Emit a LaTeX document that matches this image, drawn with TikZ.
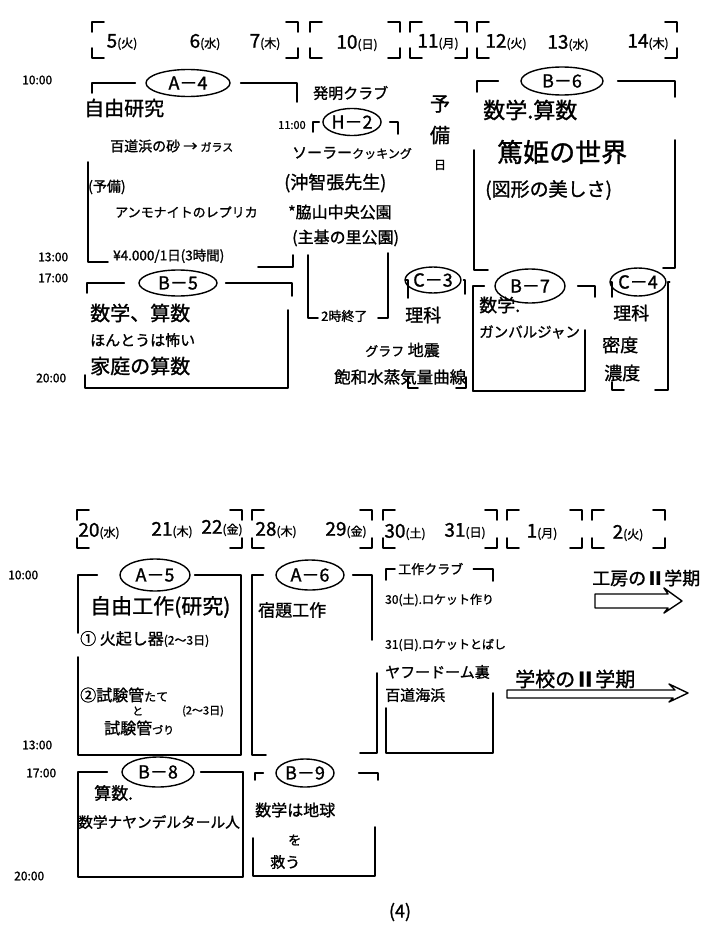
\documentclass[tikz,border=0pt]{standalone}
\usepackage{fontspec}
\setmainfont{Noto Sans CJK JP}[FakeBold=1.2]
\usetikzlibrary{shapes.geometric}
\newcommand\fs[1]{\fontsize{#1}{#1}\selectfont}
\newcommand\wk[1]{{\fs{12}(#1)}}
\newcommand\brk[4]{%
 \draw[pen] (#1+12,#3) -- (#1,#3) -- (#1,#3+10);
 \draw[pen] (#1,#4-10) -- (#1,#4) -- (#1+12,#4);
 \draw[pen] (#2-12,#3) -- (#2,#3) -- (#2,#3+10);
 \draw[pen] (#2,#4-10) -- (#2,#4) -- (#2-12,#4);}
\tikzset{
 pen/.style={line width=1.7pt, line cap=round, line join=round},
 oval/.style={ellipse, draw, line width=1.4pt, inner sep=0pt, font=\fs{18}},
 txt/.style={anchor=west, inner sep=0pt},
 tm/.style={anchor=west, inner sep=0pt, font=\fs{12}},
 day/.style={inner sep=0pt, font=\fs{19}},
}
\begin{document}
\begin{tikzpicture}[x=1pt,y=-1pt]
\useasboundingbox (0,0) rectangle (712,939);
\fill[white] (0,0) rectangle (712,939);

% ===== top header =====
\brk{92}{298}{22}{58}
\brk{310}{400}{22}{58}
\brk{410}{467}{22}{58}
\brk{477}{677}{22}{58}
\node[day] (d5) at (122,42) {5\wk{火}};
\node[day] (d6) at (205,42) {6\wk{水}};
\node[day] (d7) at (265,42) {7\wk{木}};
\node[day] (d10) at (357,43) {10\wk{日}};
\node[day] (d11) at (438,42) {11\wk{月}};
\node[day] (d12) at (506,42) {12\wk{火}};
\node[day] (d13) at (568,43) {13\wk{水}};
\node[day] (d14) at (648,42) {14\wk{木}};

% times top
\node[tm] (t10a) at (22,80) {10:00};
\node[tm] (t13a) at (38,257) {13:00};
\node[tm] (t17a) at (38,278) {17:00};
\node[tm] (t20a) at (36,378) {20:00};
\node[tm,font=\fs{11}] (t11a) at (278,125) {11:00};

% ===== A-4 =====
\node[oval,minimum width=84,minimum height=27] (a4) at (188,83) {A－4};
\draw[pen,shorten >=10pt] (92,93) |- (a4.west);
\draw[pen,shorten <=10pt] (a4.east) -| (297,102);
\draw[pen] (88,162) -- (88,262) -- (108,262);
\draw[pen] (258,267) -- (293,267) -- (293,255);
\node[txt,font=\fs{20}] (a4t1) at (84,108) {自由研究};
\node[txt,font=\fs{14}] (a4t2) at (110,146) {百道浜の砂 → {\fs{11}ガラス}};
\node[txt,font=\fs{14}] (a4t3) at (88,187) {(予備)};
\node[txt,font=\fs{13}] (a4t4) at (115,212) {アンモナイトのレプリカ};
\node[txt,font=\fs{13.5}] (a4t5) at (113,256) {¥4.000/1日(3時間)};

% ===== B-5 =====
\node[oval,minimum width=78,minimum height=26] (b5) at (178,283) {B－5};
\draw[pen,shorten >=14pt] (87,293) |- (b5.west);
\draw[pen,shorten <=8pt] (b5.east) -| (292,296);
\draw[pen] (288,310) -- (288,388) -- (85,388) -- (85,375);
\node[txt,font=\fs{20}] (b5t1) at (90,313) {数学、算数};
\node[txt,font=\fs{15}] (b5t2) at (90,340) {ほんとうは怖い};
\node[txt,font=\fs{20}] (b5t3) at (90,366) {家庭の算数};

% ===== H-2 =====
\node[txt,font=\fs{15}] (hclub) at (313,93) {発明クラブ};
\node[oval,minimum width=58,minimum height=27] (h2) at (352,122) {H－2};
\draw[pen,shorten >=3pt] (313,132) |- (h2.west);
\draw[pen,shorten <=8pt] (h2.east) -| (398,134);
\node[txt,font=\fs{15}] (h2t1) at (292,153) {ソーラー{\fs{12}クッキング}};
\node[txt,font=\fs{18}] (h2t2) at (284,183) {(沖智張先生)};
\node[txt,font=\fs{16}] (h2t3) at (288,212) {*脇山中央公園};
\node[txt,font=\fs{16}] (h2t4) at (292,238) {(主基の里公園)};
\draw[pen] (308,255) -- (308,318) -- (318,318);
\node[txt,font=\fs{13}] (h2t5) at (321,316) {2時終了};
\draw[pen] (378,318) -- (388,318) -- (388,253);

% 予備日
\node[font=\fs{20},inner sep=0pt] (y1) at (440,104) {予};
\node[font=\fs{20},inner sep=0pt] (y2) at (440,135) {備};
\node[font=\fs{12},inner sep=0pt] (y3) at (440,165) {日};

% ===== B-6 =====
\node[oval,minimum width=82,minimum height=28] (b6) at (562,81) {B－6};
\draw[pen,shorten >=22pt] (477,92) |- (b6.west);
\draw[pen,shorten <=14pt] (b6.east) -| (675,97);
\node[txt,font=\fs{22}] (b6t1) at (483,110) {数学.算数};
\node[txt,font=\fs{26}] (b6t2) at (497,152) {篤姫の世界};
\node[txt,font=\fs{19}] (b6t3) at (485,190) {(図形の美しさ)};
\draw[pen] (474,150) -- (474,270) -- (488,270);
\draw[pen] (675,140) -- (675,268) -- (663,268);

% ===== C-3 =====
\node[oval,minimum width=46,minimum height=26] (c3) at (433,280) {C－3};
\draw[pen,shorten >=1pt] (408,298) |- (c3.west);
\draw[pen,shorten <=2pt] (c3.east) -| (465,294);
\node[txt,font=\fs{18}] (c3t1) at (405,315) {理科};
\node[txt,font=\fs{16}] (c3t2) at (365,350) {{\fs{13}グラフ} 地震};
\node[txt,font=\fs{16.5}] (c3t3) at (334,377) {飽和水蒸気量曲線};
\draw[pen] (408,377) -- (408,388) -- (418,388);
\draw[pen] (456,388) -- (466,388) -- (466,377);

% ===== B-7 =====
\node[oval,minimum width=70,minimum height=34] (b7) at (530,286) {B－7};
\draw[pen,shorten >=10pt] (473,391) |- (b7.west);
\draw[pen] (473,391) -- (585,391) -- (585,330);
\draw[pen,shorten <=12pt] (b7.east) -| (595,297);
\node[txt,font=\fs{18}] (b7t1) at (479,305) {数学.};
\node[txt,font=\fs{14.5}] (b7t2) at (479,332) {ガンバルジャン};

% ===== C-4 =====
\node[oval,minimum width=44,minimum height=28] (c4) at (638,282) {C－4};
\draw[pen,shorten >=1pt] (612,297) |- (c4.west);
\draw[pen,shorten <=3pt] (c4.east) -| (668,390) -- (655,390);
\draw[pen] (612,382) -- (612,390) -- (624,390);
\node[txt,font=\fs{18}] (c4t1) at (613,313) {理科};
\node[txt,font=\fs{18}] (c4t2) at (602,345) {密度};
\node[txt,font=\fs{18}] (c4t3) at (604,373) {濃度};

% ===== bottom header =====
\brk{77}{242}{510}{548}
\brk{252}{372}{510}{548}
\brk{383}{497}{510}{548}
\brk{507}{582}{510}{548}
\brk{592}{665}{510}{548}
\node[day] (d20) at (99,531) {20\wk{水}};
\node[day] (d21) at (172,530) {21\wk{木}};
\node[day] (d22) at (222,528) {22\wk{金}};
\node[day] (d28) at (276,530) {28\wk{木}};
\node[day] (d29) at (346,530) {29\wk{金}};
\node[day] (d30) at (405,532) {30\wk{土}};
\node[day] (d31) at (465,531) {31\wk{日}};
\node[day] (d1) at (542,532) {1\wk{月}};
\node[day] (d2) at (628,533) {2\wk{火}};

% times bottom
\node[tm] (t10b) at (8,575) {10:00};
\node[tm] (t13b) at (22,745) {13:00};
\node[tm] (t17b) at (26,773) {17:00};
\node[tm] (t20b) at (14,876) {20:00};

% ===== A-5 =====
\node[oval,minimum width=70,minimum height=32] (a5) at (155,575) {A－5};
\draw[pen,shorten <=22pt] (a5.west) -| (78,633);
\draw[pen,shorten <=4pt] (a5.east) -| (241,755) -- (78,755) -- (78,657);
\node[txt,font=\fs{21}] (a5t1) at (90,607) {自由工作(研究)};
\node[txt,font=\fs{16}] (a5t2) at (80,639) {① 火起し器{\fs{12}(2～3日)}};
\node[txt,font=\fs{16}] (a5t3) at (80,695) {②試験管{\fs{12}たて}};
\node[txt,font=\fs{11}] (a5t4) at (132,711) {と};
\node[txt,font=\fs{11}] (a5t5) at (182,711) {(2～3日)};
\node[txt,font=\fs{16}] (a5t6) at (104,728) {試験管{\fs{11}づり}};

% ===== A-6 =====
\node[oval,minimum width=68,minimum height=30] (a6) at (310,575) {A－6};
\draw[pen,shorten <=12pt] (a6.west) -| (252,755) -- (266,755);
\draw[pen,shorten <=8pt] (a6.east) -| (372,640);
\draw[pen] (377,673) -- (377,753) -- (360,753);
\node[txt,font=\fs{17}] (a6t1) at (258,610) {宿題工作};

% ===== 工作クラブ =====
\node[txt,font=\fs{13}] (kclub) at (398,569) {工作クラブ};
\draw[pen,shorten >=3pt] (386,580) |- (kclub.west);
\draw[pen,shorten <=10pt] (kclub.east) -| (493,581);
\node[txt,font=\fs{12}] (k1) at (385,600) {30(土).ロケット作り};
\node[txt,font=\fs{12}] (k2) at (385,645) {31(日).ロケットとばし};
\node[txt,font=\fs{15}] (k3) at (385,672) {ヤフードーム裏};
\node[txt,font=\fs{15}] (k4) at (385,695) {百道海浜};
\draw[pen] (386,708) -- (386,753) -- (493,753) -- (493,693);

% ===== B-8 =====
\node[oval,minimum width=72,minimum height=30] (b8) at (158,772) {B－8};
\draw[pen,shorten <=14pt] (b8.west) -| (78,877) -| (243,772);
\draw[pen,shorten >=6pt] (243,772) -- (b8.east);
\node[txt,font=\fs{17}] (b8t1) at (94,793) {算数.};
\node[txt,font=\fs{14.7}] (b8t2) at (78,822) {数学ナヤンデルタール人};

% ===== B-9 =====
\node[oval,minimum width=58,minimum height=28] (b9) at (305,773) {B－9};
\draw[pen,shorten >=12pt] (255,780) |- (b9.west);
\draw[pen,shorten <=24pt] (b9.east) -| (378,780);
\draw[pen] (253,838) -- (253,876) -- (375,876) -- (375,827);
\node[txt,font=\fs{16}] (b9t1) at (255,810) {数学は地球};
\node[txt,font=\fs{13}] (b9t2) at (288,840) {を};
\node[txt,font=\fs{15}] (b9t3) at (270,862) {救う};

% ===== arrows =====
\node[txt,font=\fs{18}] (kobo) at (592,578) {工房の\textbf{Ⅱ}学期};
\draw[pen,line width=1.4pt] (595,594) -- (668,594) -- (664,588) -- (682,601) -- (664,613) -- (668,608) -- (595,608) -- cycle;
\node[txt,font=\fs{20}] (gakko) at (515,679) {学校の\textbf{Ⅱ}学期};
\draw[pen,line width=1.4pt] (507,690) -- (675,690) -- (669,684) -- (688,693) -- (669,702) -- (673,698) -- (507,698) -- cycle;

% page number
\node[font=\fs{18},inner sep=0pt] (pg) at (400,912) {(4)};
\end{tikzpicture}
\end{document}
